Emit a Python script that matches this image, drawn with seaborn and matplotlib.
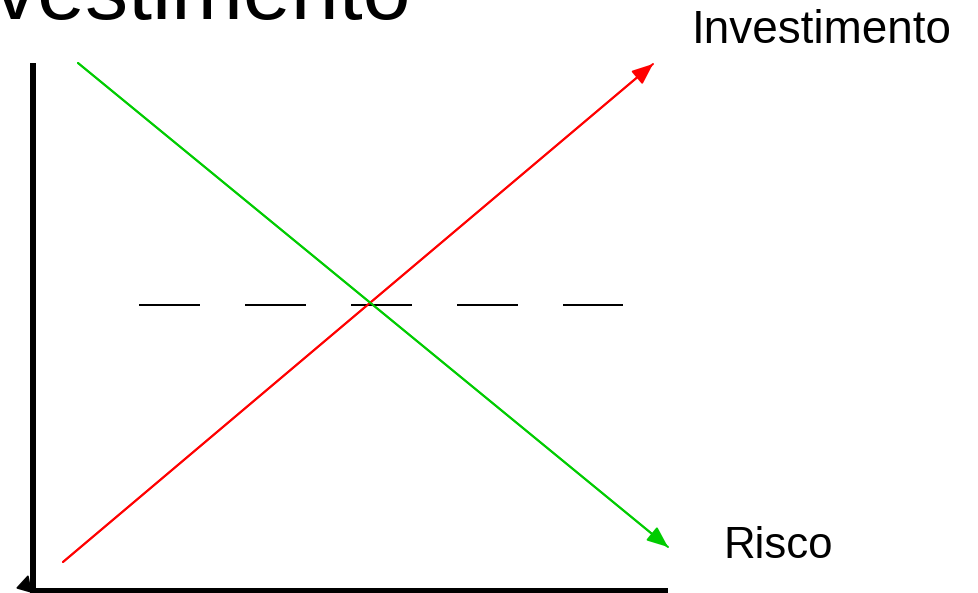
import matplotlib
matplotlib.use("Agg")
import matplotlib.pyplot as plt
import seaborn as sns
import pandas as pd
from matplotlib.patches import Polygon

sns.set_theme(style="white")
plt.rcParams["font.family"] = ["Liberation Sans", "DejaVu Sans"]

# Diagram coordinates (origin at the corner of the axes)
investimento_x = [30, 620]
investimento_y = [28, 526]
risco_x = [45, 635]
risco_y = [527, 43]
equilibrio_x = [106, 590]
equilibrio_y = [285, 285]
eixo_vertical_x = [0, 0]
eixo_vertical_y = [-4, 527]
eixo_horizontal_x = [-3, 635]
eixo_horizontal_y = [-1, -1]

titulo = "Investimento"
rotulo_investimento = "Investimento"
rotulo_risco = "Risco"

W, H, DPI = 979, 593, 100
PX = 72.0 / DPI  # points per pixel

fig = plt.figure(figsize=(W / DPI, H / DPI), dpi=DPI)
ax = fig.add_axes([0, 0, 1, 1])
ax.set_xlim(-33, W - 33)
ax.set_ylim(590 - H, 590)
ax.axis("off")

red = "#FF0000"
green = "#00CC00"

# axes of the diagram
ax.plot(eixo_vertical_x, eixo_vertical_y, color="black", lw=6 * PX, solid_capstyle="butt")
ax.plot(eixo_horizontal_x, eixo_horizontal_y, color="black", lw=6 * PX, solid_capstyle="butt")
ax.add_patch(Polygon([(-16, 2), (-5, 14), (-2, -2)], closed=True, color="black"))

# the two lines
df_inv = pd.DataFrame({"x": investimento_x, "y": investimento_y})
df_ris = pd.DataFrame({"x": risco_x, "y": risco_y})
sns.lineplot(data=df_inv, x="x", y="y", ax=ax, color=red, lw=2 * PX, sort=False)
sns.lineplot(data=df_ris, x="x", y="y", ax=ax, color=green, lw=2 * PX, sort=False)

for xs, ys, c in [(investimento_x, investimento_y, red), (risco_x, risco_y, green)]:
    ax.annotate("", xy=(xs[1], ys[1]), xytext=(xs[0], ys[0]),
                arrowprops=dict(arrowstyle="-|>,head_length=0.85,head_width=0.35",
                                mutation_scale=15, color=c, lw=2 * PX,
                                shrinkA=0, shrinkB=0))

# dashed equilibrium level
ax.plot(equilibrio_x, equilibrio_y, color="black", lw=2 * PX,
        linestyle=(0, (30.5, 22.5)), dash_capstyle="butt")

# labels
ax.text(659, 547, rotulo_investimento, fontsize=33, ha="left", va="baseline", color="black")
ax.text(690, 32, rotulo_risco, fontsize=31.5, ha="left", va="baseline", color="black")
ax.text(378, 571, titulo, fontsize=62, ha="right", va="baseline", color="black")

fig.savefig("out.png", dpi=DPI)
